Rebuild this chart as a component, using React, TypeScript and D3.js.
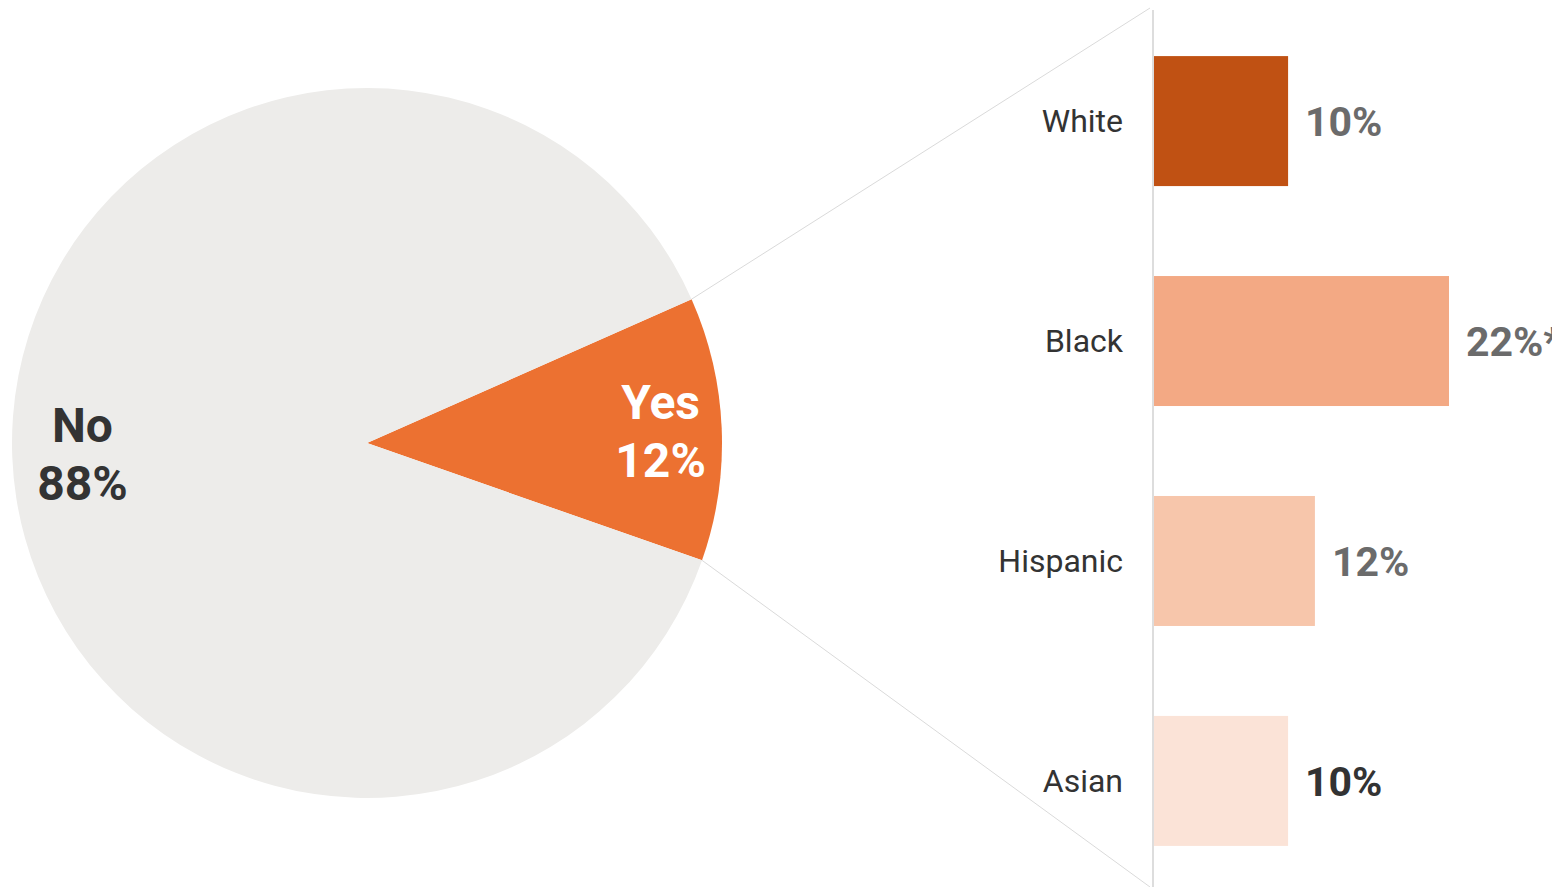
import React from 'react';
import * as d3 from 'd3';

// pie data
const pieLabels = ['Yes', 'No'];
const pieValues = [12, 88];
const pieColors = ['#EC7131', '#EDECEA'];
const pieTextColors = ['#FFFFFF', '#333333'];

// breakdown of "Yes"
const categories = ['White', 'Black', 'Hispanic', 'Asian'];
const shares = [10, 22, 12, 10];
const shareLabels = ['10%', '22%*', '12%', '10%'];
const barColors = ['#C05113', '#F3A984', '#F7C6AB', '#FBE3D7'];
const shareTextColors = ['#6B6B6B', '#6B6B6B', '#6B6B6B', '#333333'];

const W = 1552;
const H = 887;
const FONT = 'Roboto, "Noto Sans", sans-serif';

export default function App() {
  const cx = 367;
  const cy = 443;
  const r = 355;
  const startAngle = (66.1 * Math.PI) / 180;

  const pie = d3
    .pie<number>()
    .sort(null)
    .value((d) => d)
    .startAngle(startAngle)
    .endAngle(startAngle + Math.PI * 2);
  const arcs = pie(pieValues);

  const arc = d3.arc<d3.PieArcDatum<number>>().innerRadius(0).outerRadius(r);
  const labelArc = d3
    .arc<d3.PieArcDatum<number>>()
    .innerRadius(r * 0.815)
    .outerRadius(r * 0.815);

  // corners of the Yes slice, where the connectors start
  const yes = arcs[0];
  const p0: [number, number] = [cx + r * Math.sin(yes.startAngle), cy - r * Math.cos(yes.startAngle)];
  const p1: [number, number] = [cx + r * Math.sin(yes.endAngle), cy - r * Math.cos(yes.endAngle)];

  const axisX = 1153;
  const x = d3.scaleLinear().domain([0, 22]).range([axisX + 1, 1449]);
  const y = d3
    .scaleBand<string>()
    .domain(categories)
    .range([11, 891])
    .paddingInner(0.409)
    .paddingOuter(0.205);

  return (
    <svg
      width={W}
      height={H}
      style={{ position: 'absolute', left: 0, top: 0, display: 'block', background: '#fff' }}
      fontFamily={FONT}
    >
      {/* connectors */}
      <line x1={p0[0]} y1={p0[1]} x2={axisX - 3} y2={8} stroke="#DADADA" strokeWidth={1} />
      <line x1={p1[0]} y1={p1[1]} x2={axisX - 3} y2={H} stroke="#DADADA" strokeWidth={1} />

      <g transform={`translate(${cx},${cy})`}>
        {arcs.map((a, i) => (
          <path key={pieLabels[i]} d={arc(a) ?? ''} fill={pieColors[i]} />
        ))}
        {arcs.map((a, i) => {
          const [cxl, ly] = labelArc.centroid(a);
          const lx = cxl + 4.5;
          return (
            <text
              key={'l' + pieLabels[i]}
              x={lx}
              y={ly}
              textAnchor="middle"
              fontSize={48}
              fontWeight="bold"
              fill={pieTextColors[i]}
            >
              <tspan x={lx} dy={-12.5}>
                {pieLabels[i]}
              </tspan>
              <tspan x={lx} dy={58}>
                {pieValues[i]}%
              </tspan>
            </text>
          );
        })}
      </g>

      {/* bars */}
      <line x1={axisX} y1={10} x2={axisX} y2={H} stroke="#DDDDDD" strokeWidth={2} />
      {categories.map((c, i) => {
        const y0 = y(c) ?? 0;
        const yc = y0 + y.bandwidth() / 2;
        return (
          <g key={c}>
            <rect
              x={x(0)}
              y={y0}
              width={x(shares[i]) - x(0)}
              height={y.bandwidth()}
              fill={barColors[i]}
            />
            <text x={axisX - 30} y={yc + 11} textAnchor="end" fontSize={32} fill="#333333">
              {c}
            </text>
            <text
              x={x(shares[i]) + 17}
              y={yc + 15}
              fontSize={41}
              fontWeight="bold"
              fill={shareTextColors[i]}
            >
              {shareLabels[i]}
            </text>
          </g>
        );
      })}
    </svg>
  );
}
